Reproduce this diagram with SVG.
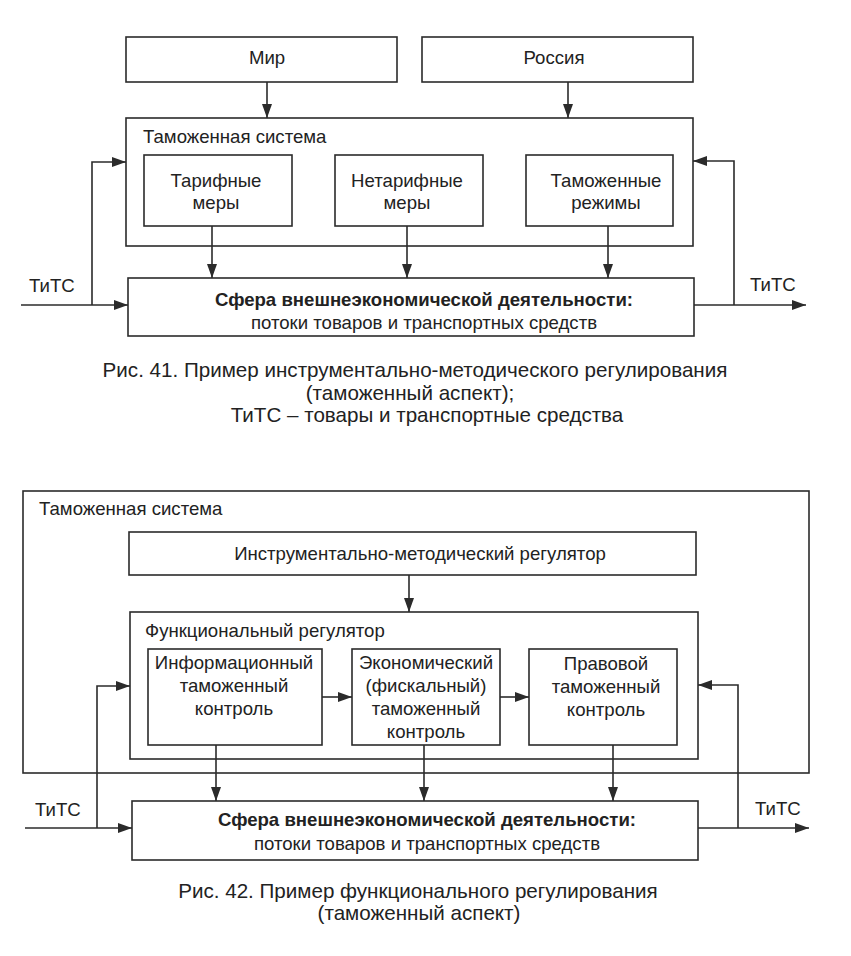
<svg xmlns="http://www.w3.org/2000/svg" width="851" height="956" viewBox="0 0 851 956">
<style>
  .box{fill:none;stroke:#2b2b2b;stroke-width:1.6}
  .ln{fill:none;stroke:#2b2b2b;stroke-width:1.6}
  .t{font-family:"Liberation Sans",Arial,sans-serif;font-size:18.6px;fill:#222}
  .c{text-anchor:middle}
  .b{font-weight:bold}
  .cap{font-family:"Liberation Sans",Arial,sans-serif;font-size:20.6px;fill:#222}
</style>
<defs>
  <marker id="ah" markerUnits="userSpaceOnUse" markerWidth="15" markerHeight="11" refX="14" refY="5" orient="auto">
    <path d="M0,0 L14,5 L0,10 z" fill="#2b2b2b"/>
  </marker>
</defs>
<rect width="851" height="956" fill="#ffffff"/>

<!-- Figure 41 -->
<g id="mir">
  <rect class="box" x="126" y="37" width="271" height="45"/>
  <text class="t c" x="267" y="64">Мир</text>
</g>
<g id="rossiya">
  <rect class="box" x="422" y="37" width="271" height="45"/>
  <text class="t c" x="554" y="64">Россия</text>
</g>
<g id="tam-sistema-1">
  <rect class="box" x="126" y="118" width="567" height="128"/>
  <text class="t" x="143" y="143">Таможенная система</text>
</g>
<g id="tarifnye">
  <rect class="box" x="144" y="155" width="148" height="71"/>
  <text class="t c" x="216" y="187">Тарифные</text>
  <text class="t c" x="216" y="209">меры</text>
</g>
<g id="netarifnye">
  <rect class="box" x="335" y="155" width="148" height="71"/>
  <text class="t c" x="407" y="187">Нетарифные</text>
  <text class="t c" x="407" y="209">меры</text>
</g>
<g id="rezhimy">
  <rect class="box" x="526" y="155" width="147" height="71"/>
  <text class="t c" x="606" y="187">Таможенные</text>
  <text class="t c" x="606" y="209">режимы</text>
</g>
<g id="sfera-1">
  <rect class="box" x="128" y="278" width="566" height="58"/>
  <text class="t c b" x="424" y="306">Сфера внешнеэкономической деятельности:</text>
  <text class="t c" x="424" y="329">потоки товаров и транспортных средств</text>
</g>
<g id="tits-labels-1">
  <text class="t" x="29" y="292">ТиТС</text>
  <text class="t" x="750" y="291">ТиТС</text>
</g>
<g id="connectors-1">
  <line class="ln" x1="267" y1="82" x2="267" y2="118" marker-end="url(#ah)"/>
  <line class="ln" x1="568" y1="82" x2="568" y2="118" marker-end="url(#ah)"/>
  <line class="ln" x1="212" y1="226" x2="212" y2="278" marker-end="url(#ah)"/>
  <line class="ln" x1="407" y1="226" x2="407" y2="278" marker-end="url(#ah)"/>
  <line class="ln" x1="608" y1="226" x2="608" y2="278" marker-end="url(#ah)"/>
  <line class="ln" x1="21" y1="305" x2="128" y2="305" marker-end="url(#ah)"/>
  <polyline class="ln" points="92,305 92,162 126,162" marker-end="url(#ah)"/>
  <line class="ln" x1="694" y1="305" x2="806" y2="305" marker-end="url(#ah)"/>
  <polyline class="ln" points="734,305 734,161 693,161" marker-end="url(#ah)"/>
</g>
<g id="caption-41">
  <text class="cap c" x="415" y="377">Рис. 41. Пример инструментально-методического регулирования</text>
  <text class="cap c" x="410" y="400">(таможенный аспект);</text>
  <text class="cap c" x="427" y="422">ТиТС – товары и транспортные средства</text>
</g>

<!-- Figure 42 -->
<g id="tam-sistema-2">
  <rect class="box" x="23" y="491" width="786" height="282"/>
  <text class="t" x="39" y="515">Таможенная система</text>
</g>
<g id="instr-reg">
  <rect class="box" x="129" y="532" width="567" height="43"/>
  <text class="t c" x="420" y="560">Инструментально-методический регулятор</text>
</g>
<g id="func-reg">
  <rect class="box" x="130" y="612" width="568" height="147"/>
  <text class="t" x="145" y="637">Функциональный регулятор</text>
</g>
<g id="inform">
  <rect class="box" x="148" y="649" width="174" height="96"/>
  <text class="t c" x="234" y="669">Информационный</text>
  <text class="t c" x="234" y="692">таможенный</text>
  <text class="t c" x="234" y="715">контроль</text>
</g>
<g id="ekonom">
  <rect class="box" x="352" y="649" width="148" height="96"/>
  <text class="t c" x="426" y="669">Экономический</text>
  <text class="t c" x="426" y="692">(фискальный)</text>
  <text class="t c" x="426" y="715">таможенный</text>
  <text class="t c" x="426" y="738">контроль</text>
</g>
<g id="pravovoy">
  <rect class="box" x="529" y="649" width="148" height="96"/>
  <text class="t c" x="606" y="670">Правовой</text>
  <text class="t c" x="606" y="693">таможенный</text>
  <text class="t c" x="606" y="716">контроль</text>
</g>
<g id="sfera-2">
  <rect class="box" x="132" y="801" width="566" height="59"/>
  <text class="t c b" x="427" y="826">Сфера внешнеэкономической деятельности:</text>
  <text class="t c" x="427" y="850">потоки товаров и транспортных средств</text>
</g>
<g id="tits-labels-2">
  <text class="t" x="35" y="816">ТиТС</text>
  <text class="t" x="755" y="815">ТиТС</text>
</g>
<g id="connectors-2">
  <line class="ln" x1="409" y1="575" x2="409" y2="612" marker-end="url(#ah)"/>
  <line class="ln" x1="322" y1="697" x2="352" y2="697" marker-end="url(#ah)"/>
  <line class="ln" x1="500" y1="697" x2="529" y2="697" marker-end="url(#ah)"/>
  <line class="ln" x1="216" y1="745" x2="216" y2="801" marker-end="url(#ah)"/>
  <line class="ln" x1="424" y1="745" x2="424" y2="801" marker-end="url(#ah)"/>
  <line class="ln" x1="613" y1="745" x2="613" y2="801" marker-end="url(#ah)"/>
  <line class="ln" x1="25" y1="828" x2="132" y2="828" marker-end="url(#ah)"/>
  <polyline class="ln" points="97,828 97,686 130,686" marker-end="url(#ah)"/>
  <line class="ln" x1="698" y1="828" x2="809" y2="828" marker-end="url(#ah)"/>
  <polyline class="ln" points="738,828 738,685 698,685" marker-end="url(#ah)"/>
</g>
<g id="caption-42">
  <text class="cap c" x="418" y="898">Рис. 42. Пример функционального регулирования</text>
  <text class="cap c" x="419" y="920">(таможенный аспект)</text>
</g>
</svg>
